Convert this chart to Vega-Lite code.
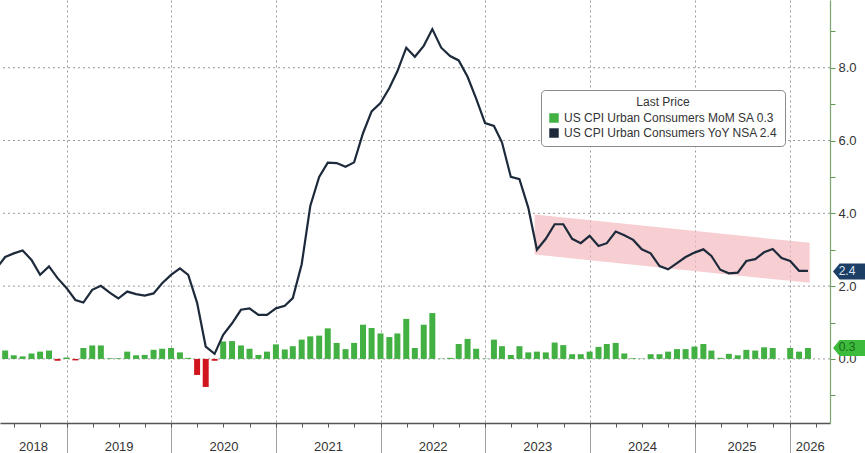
{
  "$schema": "https://vega.github.io/schema/vega-lite/v6.json",
  "width": 830,
  "height": 423,
  "autosize": {"type": "none"},
  "padding": {"left": 0, "top": 0, "right": 35, "bottom": 30},
  "background": "white",
  "config": {"view": {"stroke": null}, "font": "Liberation Sans", "scale": {"continuousPadding": 0}},
  "datasets": {
    "band": [
      {"d": "2023-06-22", "top": 3.97, "bottom": 2.87},
      {"d": "2026-02-06", "top": 3.19, "bottom": 2.09}
    ],
    "gridY": [{"v": 0}, {"v": 2}, {"v": 4}, {"v": 6}, {"v": 8}],
    "mom": [
      {"d": "2018-05-31", "v": 0.23}, {"d": "2018-06-30", "v": 0.1}, {"d": "2018-07-31", "v": 0.07}, {"d": "2018-08-31", "v": 0.15},
      {"d": "2018-09-30", "v": 0.2}, {"d": "2018-10-31", "v": 0.23}, {"d": "2018-11-30", "v": -0.05}, {"d": "2018-12-31", "v": 0.04},
      {"d": "2019-01-31", "v": -0.04}, {"d": "2019-02-28", "v": 0.3}, {"d": "2019-03-31", "v": 0.37}, {"d": "2019-04-30", "v": 0.37},
      {"d": "2019-05-31", "v": 0.02}, {"d": "2019-06-30", "v": 0.02}, {"d": "2019-07-31", "v": 0.2}, {"d": "2019-08-31", "v": 0.1},
      {"d": "2019-09-30", "v": 0.11}, {"d": "2019-10-31", "v": 0.25}, {"d": "2019-11-30", "v": 0.28}, {"d": "2019-12-31", "v": 0.3},
      {"d": "2020-01-31", "v": 0.18}, {"d": "2020-02-29", "v": 0.03}, {"d": "2020-03-31", "v": -0.44}, {"d": "2020-04-30", "v": -0.77},
      {"d": "2020-05-31", "v": -0.05}, {"d": "2020-06-30", "v": 0.48}, {"d": "2020-07-31", "v": 0.49}, {"d": "2020-08-31", "v": 0.37},
      {"d": "2020-09-30", "v": 0.28}, {"d": "2020-10-31", "v": 0.11}, {"d": "2020-11-30", "v": 0.2}, {"d": "2020-12-31", "v": 0.4},
      {"d": "2021-01-31", "v": 0.26}, {"d": "2021-02-28", "v": 0.35}, {"d": "2021-03-31", "v": 0.53}, {"d": "2021-04-30", "v": 0.62},
      {"d": "2021-05-31", "v": 0.64}, {"d": "2021-06-30", "v": 0.84}, {"d": "2021-07-31", "v": 0.44}, {"d": "2021-08-31", "v": 0.27},
      {"d": "2021-09-30", "v": 0.44}, {"d": "2021-10-31", "v": 0.94}, {"d": "2021-11-30", "v": 0.85}, {"d": "2021-12-31", "v": 0.7},
      {"d": "2022-01-31", "v": 0.6}, {"d": "2022-02-28", "v": 0.7}, {"d": "2022-03-31", "v": 1.1}, {"d": "2022-04-30", "v": 0.3},
      {"d": "2022-05-31", "v": 0.94}, {"d": "2022-06-30", "v": 1.26}, {"d": "2022-07-31", "v": 0.01}, {"d": "2022-08-31", "v": 0.03},
      {"d": "2022-09-30", "v": 0.41}, {"d": "2022-10-31", "v": 0.55}, {"d": "2022-11-30", "v": 0.28}, {"d": "2022-12-31", "v": 0.01},
      {"d": "2023-01-31", "v": 0.53}, {"d": "2023-02-28", "v": 0.35}, {"d": "2023-03-31", "v": 0.11}, {"d": "2023-04-30", "v": 0.35},
      {"d": "2023-05-31", "v": 0.18}, {"d": "2023-06-30", "v": 0.2}, {"d": "2023-07-31", "v": 0.18}, {"d": "2023-08-31", "v": 0.45},
      {"d": "2023-09-30", "v": 0.38}, {"d": "2023-10-31", "v": 0.13}, {"d": "2023-11-30", "v": 0.13}, {"d": "2023-12-31", "v": 0.2},
      {"d": "2024-01-31", "v": 0.33}, {"d": "2024-02-29", "v": 0.41}, {"d": "2024-03-31", "v": 0.44}, {"d": "2024-04-30", "v": 0.15},
      {"d": "2024-05-31", "v": 0.02}, {"d": "2024-06-30", "v": 0.01}, {"d": "2024-07-31", "v": 0.13}, {"d": "2024-08-31", "v": 0.13},
      {"d": "2024-09-30", "v": 0.2}, {"d": "2024-10-31", "v": 0.27}, {"d": "2024-11-30", "v": 0.27}, {"d": "2024-12-31", "v": 0.34},
      {"d": "2025-01-31", "v": 0.41}, {"d": "2025-02-28", "v": 0.23}, {"d": "2025-03-31", "v": 0.03}, {"d": "2025-04-30", "v": 0.14},
      {"d": "2025-05-31", "v": 0.1}, {"d": "2025-06-30", "v": 0.25}, {"d": "2025-07-31", "v": 0.23}, {"d": "2025-08-31", "v": 0.32},
      {"d": "2025-09-30", "v": 0.3}, {"d": "2025-11-30", "v": 0.3}, {"d": "2025-12-31", "v": 0.2}, {"d": "2026-01-31", "v": 0.3}
    ],
    "yoy": [
      {"d": "2018-04-30", "v": 2.48}, {"d": "2018-05-31", "v": 2.8}, {"d": "2018-06-30", "v": 2.9}, {"d": "2018-07-31", "v": 2.98},
      {"d": "2018-08-31", "v": 2.72}, {"d": "2018-09-30", "v": 2.31}, {"d": "2018-10-31", "v": 2.54}, {"d": "2018-11-30", "v": 2.22},
      {"d": "2018-12-31", "v": 1.95}, {"d": "2019-01-31", "v": 1.62}, {"d": "2019-02-28", "v": 1.55}, {"d": "2019-03-31", "v": 1.9},
      {"d": "2019-04-30", "v": 2.01}, {"d": "2019-05-31", "v": 1.82}, {"d": "2019-06-30", "v": 1.66}, {"d": "2019-07-31", "v": 1.85},
      {"d": "2019-08-31", "v": 1.78}, {"d": "2019-09-30", "v": 1.74}, {"d": "2019-10-31", "v": 1.8}, {"d": "2019-11-30", "v": 2.08},
      {"d": "2019-12-31", "v": 2.31}, {"d": "2020-01-31", "v": 2.49}, {"d": "2020-02-29", "v": 2.31}, {"d": "2020-03-31", "v": 1.54},
      {"d": "2020-04-30", "v": 0.34}, {"d": "2020-05-31", "v": 0.14}, {"d": "2020-06-30", "v": 0.66}, {"d": "2020-07-31", "v": 0.98},
      {"d": "2020-08-31", "v": 1.35}, {"d": "2020-09-30", "v": 1.39}, {"d": "2020-10-31", "v": 1.21}, {"d": "2020-11-30", "v": 1.21},
      {"d": "2020-12-31", "v": 1.39}, {"d": "2021-01-31", "v": 1.46}, {"d": "2021-02-28", "v": 1.67}, {"d": "2021-03-31", "v": 2.6},
      {"d": "2021-04-30", "v": 4.2}, {"d": "2021-05-31", "v": 5.0}, {"d": "2021-06-30", "v": 5.39}, {"d": "2021-07-31", "v": 5.38},
      {"d": "2021-08-31", "v": 5.28}, {"d": "2021-09-30", "v": 5.4}, {"d": "2021-10-31", "v": 6.2}, {"d": "2021-11-30", "v": 6.8},
      {"d": "2021-12-31", "v": 7.03}, {"d": "2022-01-31", "v": 7.44}, {"d": "2022-02-28", "v": 7.9}, {"d": "2022-03-31", "v": 8.55},
      {"d": "2022-04-30", "v": 8.3}, {"d": "2022-05-31", "v": 8.6}, {"d": "2022-06-30", "v": 9.06}, {"d": "2022-07-31", "v": 8.55},
      {"d": "2022-08-31", "v": 8.32}, {"d": "2022-09-30", "v": 8.2}, {"d": "2022-10-31", "v": 7.75}, {"d": "2022-11-30", "v": 7.15},
      {"d": "2022-12-31", "v": 6.48}, {"d": "2023-01-31", "v": 6.4}, {"d": "2023-02-28", "v": 5.95}, {"d": "2023-03-31", "v": 5.0},
      {"d": "2023-04-30", "v": 4.94}, {"d": "2023-05-31", "v": 4.15}, {"d": "2023-06-30", "v": 3.0}, {"d": "2023-07-31", "v": 3.3},
      {"d": "2023-08-31", "v": 3.7}, {"d": "2023-09-30", "v": 3.7}, {"d": "2023-10-31", "v": 3.3}, {"d": "2023-11-30", "v": 3.18},
      {"d": "2023-12-31", "v": 3.38}, {"d": "2024-01-31", "v": 3.1}, {"d": "2024-02-29", "v": 3.18}, {"d": "2024-03-31", "v": 3.5},
      {"d": "2024-04-30", "v": 3.4}, {"d": "2024-05-31", "v": 3.27}, {"d": "2024-06-30", "v": 3.01}, {"d": "2024-07-31", "v": 2.9},
      {"d": "2024-08-31", "v": 2.55}, {"d": "2024-09-30", "v": 2.46}, {"d": "2024-10-31", "v": 2.63}, {"d": "2024-11-30", "v": 2.8},
      {"d": "2024-12-31", "v": 2.92}, {"d": "2025-01-31", "v": 3.01}, {"d": "2025-02-28", "v": 2.83}, {"d": "2025-03-31", "v": 2.45},
      {"d": "2025-04-30", "v": 2.35}, {"d": "2025-05-31", "v": 2.37}, {"d": "2025-06-30", "v": 2.69}, {"d": "2025-07-31", "v": 2.74},
      {"d": "2025-08-31", "v": 2.93}, {"d": "2025-09-30", "v": 3.02}, {"d": "2025-10-31", "v": 2.77}, {"d": "2025-11-30", "v": 2.69},
      {"d": "2025-12-31", "v": 2.42}, {"d": "2026-01-31", "v": 2.42}
    ],
    "tags": [
      {"k": "yoy", "v": 2.4, "t": "2.4"},
      {"k": "mom", "v": 0.3, "t": "0.3"}
    ]
  },
  "layer": [
    {
      "data": {"name": "band"},
      "mark": {"type": "area", "color": "#f3b9bd", "opacity": 0.7},
      "encoding": {
        "x": {
          "field": "d", "type": "temporal",
          "scale": {"type": "utc", "nice": false, "padding": 0, "domain": [{"year": 2018, "month": 5, "date": 13, "utc": true}, {"year": 2026, "month": 4, "date": 18, "utc": true}]},
          "axis": {
            "orient": "bottom",
            "values": [
              {"year": 2019, "month": 1, "date": 1, "utc": true}, {"year": 2020, "month": 1, "date": 1, "utc": true},
              {"year": 2021, "month": 1, "date": 1, "utc": true}, {"year": 2022, "month": 1, "date": 1, "utc": true},
              {"year": 2023, "month": 1, "date": 1, "utc": true}, {"year": 2024, "month": 1, "date": 1, "utc": true},
              {"year": 2025, "month": 1, "date": 1, "utc": true}, {"year": 2025, "month": 12, "date": 1, "utc": true}
            ],
            "labels": false, "domain": false, "tickSize": 30, "tickColor": "#a0a0a0", "tickWidth": 1,
            "grid": true, "gridDash": [2, 3], "gridColor": "#9a9a9a", "gridWidth": 1, "title": null
          }
        },
        "y": {"field": "top", "type": "quantitative", "scale": {"domain": [-1.76, 9.86], "nice": false, "zero": false}, "axis": null},
        "y2": {"field": "bottom"}
      }
    },
    {
      "data": {"name": "gridY"},
      "mark": {"type": "rule", "color": "#9a9a9a", "strokeDash": [2, 3], "strokeWidth": 1},
      "encoding": {"y": {"field": "v", "type": "quantitative", "scale": {"domain": [-1.76, 9.86], "nice": false, "zero": false}, "axis": null}}
    },
    {
      "data": {"name": "mom"},
      "mark": {"type": "bar", "size": 6, "clip": true},
      "encoding": {
        "x": {
          "field": "d", "type": "temporal",
          "scale": {"type": "utc", "nice": false, "padding": 0, "domain": [{"year": 2018, "month": 5, "date": 13, "utc": true}, {"year": 2026, "month": 4, "date": 18, "utc": true}]},
          "axis": {
            "orient": "bottom",
            "values": [
              {"year": 2018, "month": 7, "date": 1, "utc": true}, {"year": 2018, "month": 10, "date": 1, "utc": true},
              {"year": 2019, "month": 1, "date": 1, "utc": true}, {"year": 2019, "month": 4, "date": 1, "utc": true},
              {"year": 2019, "month": 7, "date": 1, "utc": true}, {"year": 2019, "month": 10, "date": 1, "utc": true},
              {"year": 2020, "month": 1, "date": 1, "utc": true}, {"year": 2020, "month": 4, "date": 1, "utc": true},
              {"year": 2020, "month": 7, "date": 1, "utc": true}, {"year": 2020, "month": 10, "date": 1, "utc": true},
              {"year": 2021, "month": 1, "date": 1, "utc": true}, {"year": 2021, "month": 4, "date": 1, "utc": true},
              {"year": 2021, "month": 7, "date": 1, "utc": true}, {"year": 2021, "month": 10, "date": 1, "utc": true},
              {"year": 2022, "month": 1, "date": 1, "utc": true}, {"year": 2022, "month": 4, "date": 1, "utc": true},
              {"year": 2022, "month": 7, "date": 1, "utc": true}, {"year": 2022, "month": 10, "date": 1, "utc": true},
              {"year": 2023, "month": 1, "date": 1, "utc": true}, {"year": 2023, "month": 4, "date": 1, "utc": true},
              {"year": 2023, "month": 7, "date": 1, "utc": true}, {"year": 2023, "month": 10, "date": 1, "utc": true},
              {"year": 2024, "month": 1, "date": 1, "utc": true}, {"year": 2024, "month": 4, "date": 1, "utc": true},
              {"year": 2024, "month": 7, "date": 1, "utc": true}, {"year": 2024, "month": 10, "date": 1, "utc": true},
              {"year": 2025, "month": 1, "date": 1, "utc": true}, {"year": 2025, "month": 4, "date": 1, "utc": true},
              {"year": 2025, "month": 7, "date": 1, "utc": true}, {"year": 2025, "month": 10, "date": 1, "utc": true},
              {"year": 2025, "month": 12, "date": 1, "utc": true}, {"year": 2026, "month": 3, "date": 1, "utc": true}
            ],
            "labels": false, "domain": true, "domainColor": "#555555", "domainWidth": 1.5,
            "tickSize": 4, "tickColor": "#555555", "grid": false, "title": null
          }
        },
        "y": {
          "field": "v", "type": "quantitative",
          "scale": {"domain": [-1.76, 9.86], "nice": false, "zero": false},
          "axis": {
            "orient": "right", "values": [-1, 0, 1, 2, 3, 4, 5, 6, 7, 8, 9],
            "labelExpr": "datum.value >= 0 && datum.value % 2 == 0 ? format(datum.value, '.1f') : ''",
            "tickSize": 5, "tickColor": "#5a9e4c", "domainColor": "#7aa56e", "domainWidth": 1.2,
            "labelColor": "#333333", "labelFontSize": 13, "labelPadding": 3, "grid": false, "title": null
          }
        },
        "color": {
          "condition": {"test": "datum.v < 0", "value": "#d0161c"},
          "datum": "US CPI Urban Consumers MoM SA  0.3",
          "scale": {
            "domain": ["US CPI Urban Consumers MoM SA  0.3", "US CPI Urban Consumers YoY NSA 2.4"],
            "range": ["#43b043", "#1c2a3b"]
          },
          "legend": {
            "title": "Last Price", "orient": "none", "legendX": 541, "legendY": 90,
            "titleAnchor": "middle", "titleFontSize": 12, "titleFontWeight": "normal", "titleColor": "#333333", "titlePadding": 3,
            "labelFontSize": 12, "labelColor": "#333333", "labelLimit": 400,
            "symbolType": "square", "symbolSize": 90, "symbolStrokeWidth": 0, "rowPadding": 3,
            "strokeColor": "#8a8a8a", "cornerRadius": 4, "fillColor": "white", "padding": 7
          }
        }
      }
    },
    {
      "data": {"name": "yoy"},
      "mark": {"type": "line", "strokeWidth": 2.2, "clip": true},
      "encoding": {
        "x": {
          "field": "d", "type": "temporal",
          "scale": {"type": "utc", "nice": false, "padding": 0, "domain": [{"year": 2018, "month": 5, "date": 13, "utc": true}, {"year": 2026, "month": 4, "date": 18, "utc": true}]},
          "axis": {
            "orient": "bottom",
            "values": [
              {"year": 2018, "month": 9, "date": 5, "utc": true},
              {"year": 2019, "month": 7, "date": 1, "utc": true},
              {"year": 2020, "month": 7, "date": 1, "utc": true},
              {"year": 2021, "month": 7, "date": 1, "utc": true},
              {"year": 2022, "month": 7, "date": 1, "utc": true},
              {"year": 2023, "month": 7, "date": 1, "utc": true},
              {"year": 2024, "month": 7, "date": 1, "utc": true},
              {"year": 2025, "month": 6, "date": 13, "utc": true},
              {"year": 2026, "month": 2, "date": 6, "utc": true}
            ],
            "format": "%Y", "ticks": false, "tickSize": 0, "domain": false, "grid": false,
            "labelFontSize": 13, "labelColor": "#333333", "labelPadding": 17, "labelFlush": false, "labelOverlap": false, "title": null
          }
        },
        "y": {"field": "v", "type": "quantitative", "scale": {"domain": [-1.76, 9.86], "nice": false, "zero": false}, "axis": null},
        "color": {"datum": "US CPI Urban Consumers YoY NSA 2.4"}
      }
    },
    {
      "data": {"name": "tags"},
      "mark": {
        "type": "point", "filled": true, "opacity": 1, "size": 1024,
        "shape": "M0.19,0 L0.6,-0.5 L2.2,-0.5 L2.2,0.5 L0.6,0.5 Z"
      },
      "encoding": {
        "x": {
          "datum": {"year": 2026, "month": 4, "date": 18, "utc": true}, "type": "temporal",
          "scale": {"type": "utc", "nice": false, "padding": 0, "domain": [{"year": 2018, "month": 5, "date": 13, "utc": true}, {"year": 2026, "month": 4, "date": 18, "utc": true}]},
          "axis": null
        },
        "y": {"field": "v", "type": "quantitative", "scale": {"domain": [-1.76, 9.86], "nice": false, "zero": false}, "axis": null},
        "fill": {"condition": {"test": "datum.k == 'yoy'", "value": "#1d3f66"}, "value": "#3cbb3c"}
      }
    },
    {
      "data": {"name": "tags"},
      "mark": {"type": "text", "dx": 17, "dy": -1, "fontSize": 12, "align": "center", "baseline": "middle"},
      "encoding": {
        "x": {
          "datum": {"year": 2026, "month": 4, "date": 18, "utc": true}, "type": "temporal",
          "scale": {"type": "utc", "nice": false, "padding": 0, "domain": [{"year": 2018, "month": 5, "date": 13, "utc": true}, {"year": 2026, "month": 4, "date": 18, "utc": true}]},
          "axis": null
        },
        "y": {"field": "v", "type": "quantitative", "scale": {"domain": [-1.76, 9.86], "nice": false, "zero": false}, "axis": null},
        "text": {"field": "t"},
        "color": {"condition": {"test": "datum.k == 'yoy'", "value": "#dce6f2"}, "value": "#1d6a1d"}
      }
    }
  ],
  "resolve": {"scale": {"x": "independent"}, "axis": {"x": "independent", "y": "independent"}}
}
